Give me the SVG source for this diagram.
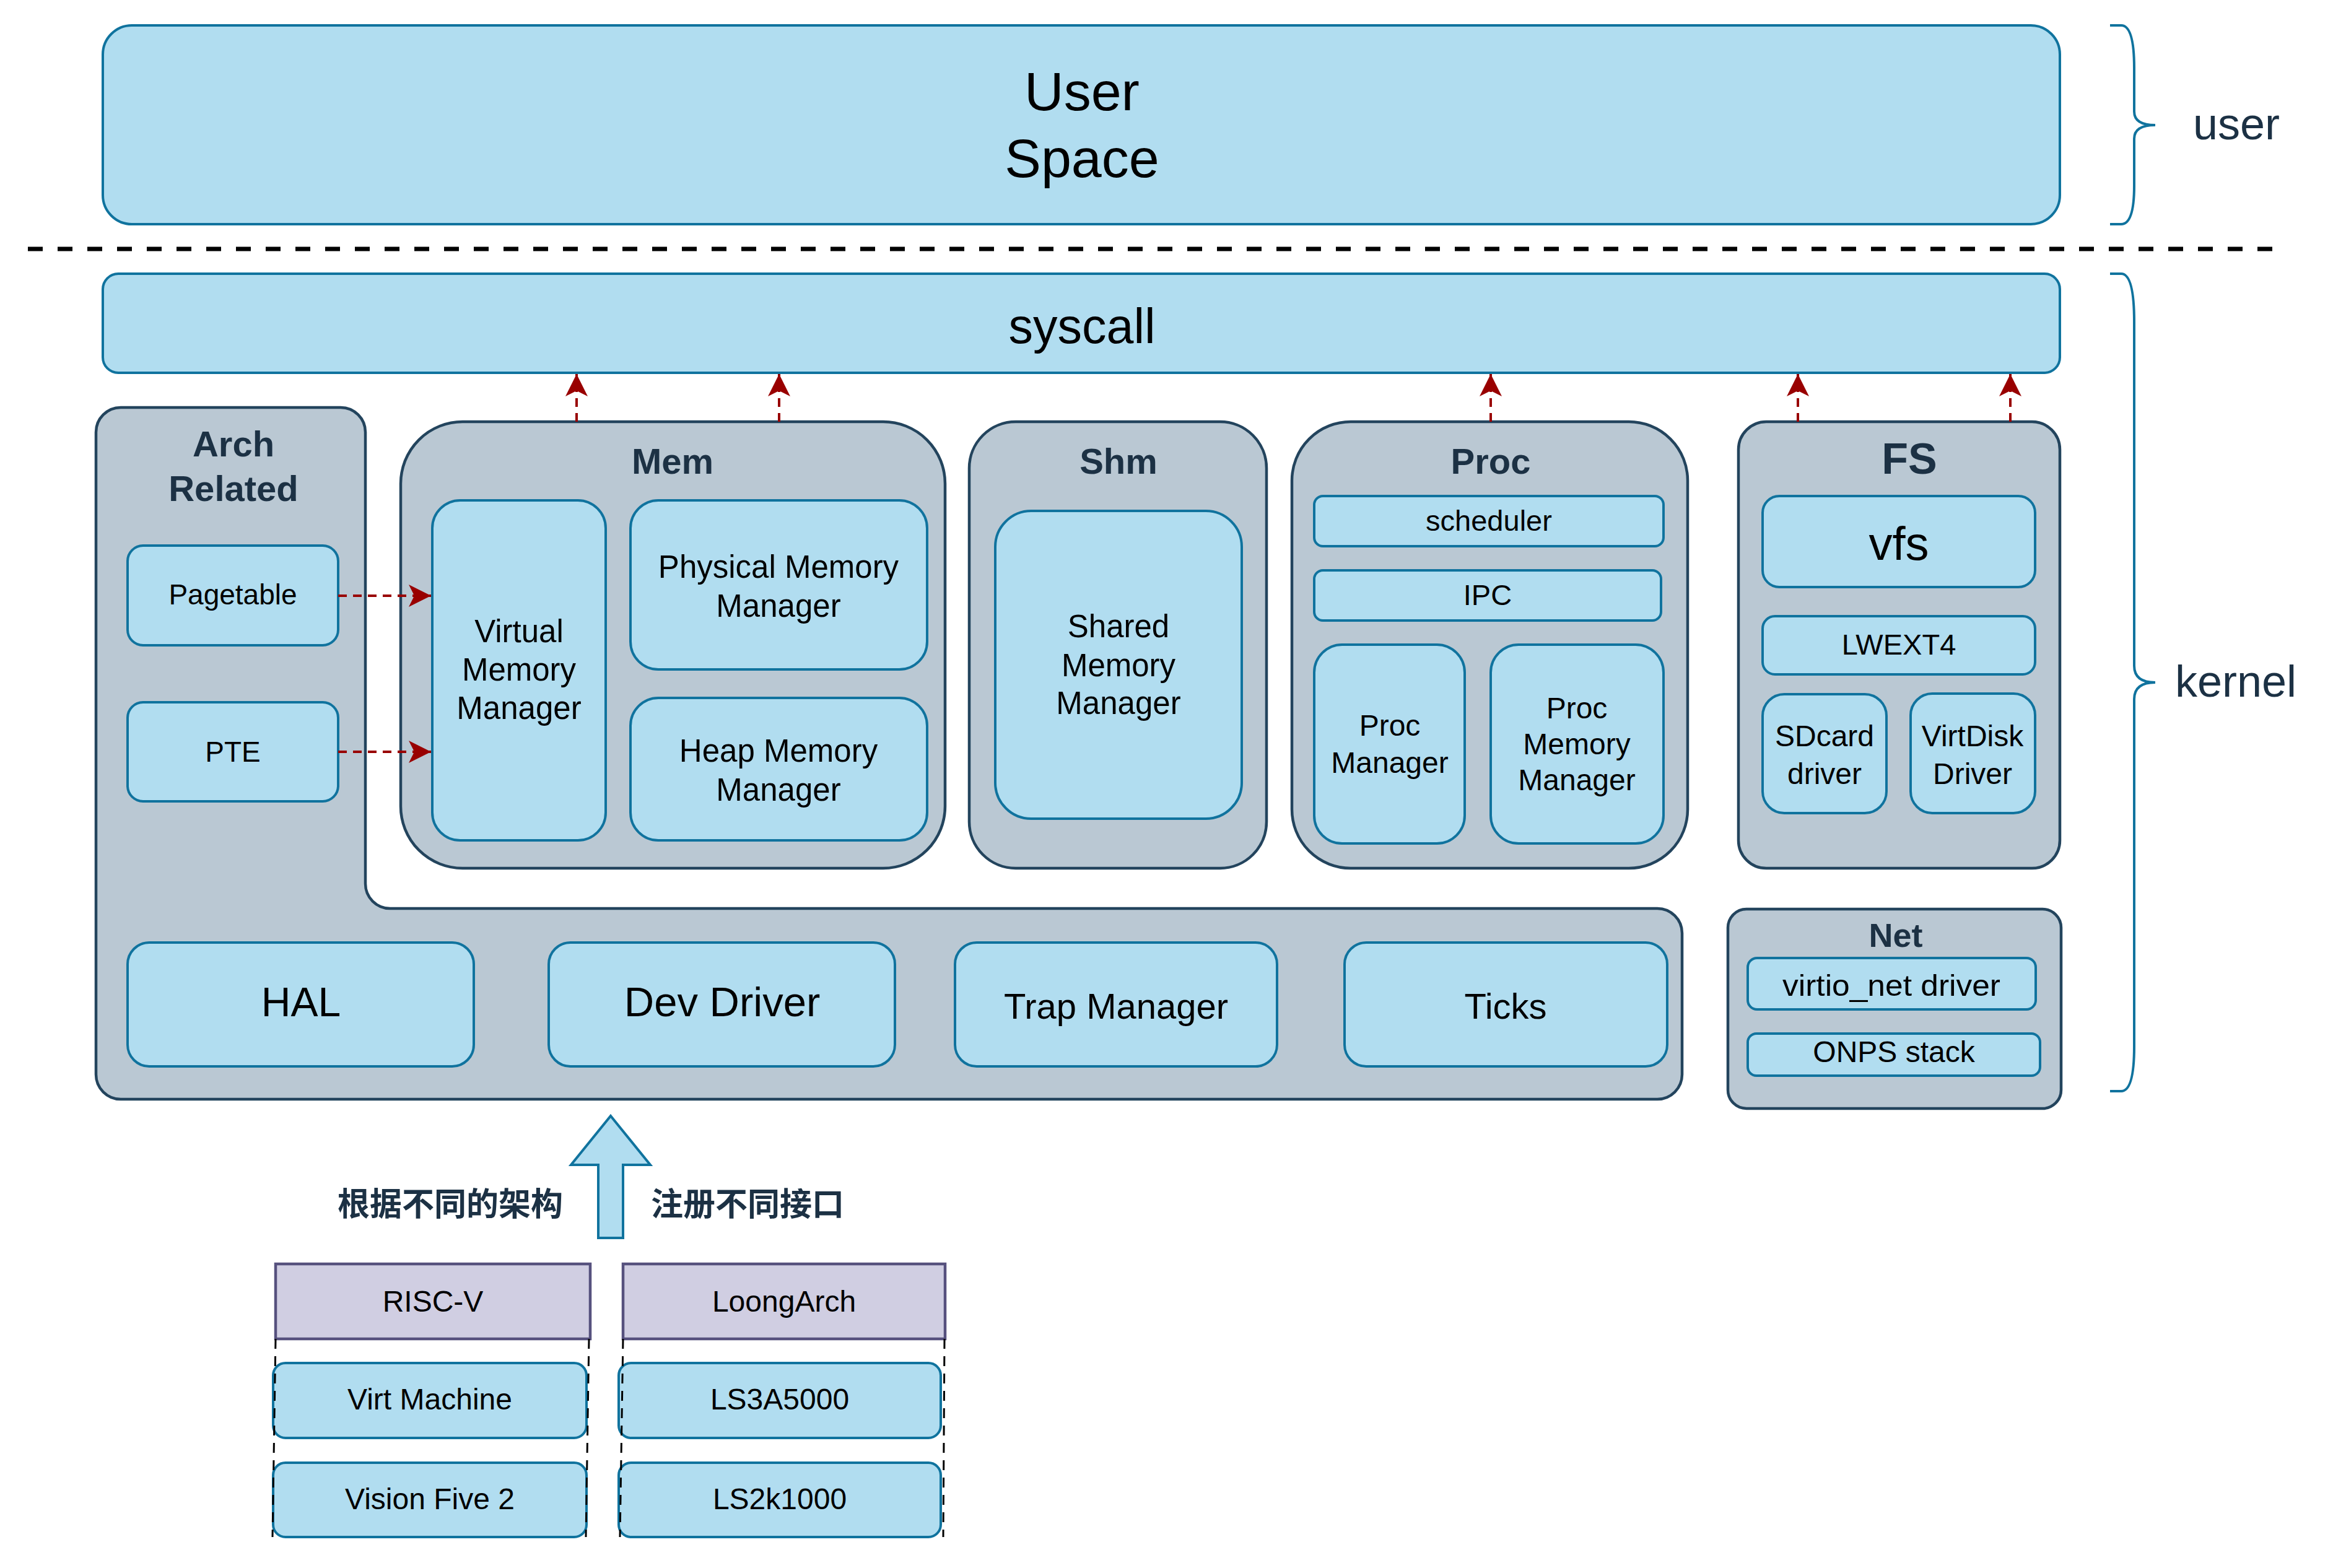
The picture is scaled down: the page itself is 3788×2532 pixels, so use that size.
<svg xmlns="http://www.w3.org/2000/svg" width="3788" height="2532" viewBox="0 0 3788 2532">
<defs>
<style>
.blue{fill:#b1ddf0;stroke:#10739e;stroke-width:4}
.grey{fill:#bac8d3;stroke:#23445d;stroke-width:4.5}
.purple{fill:#d0cee2;stroke:#56517e;stroke-width:4.5}
.t{font-family:"Liberation Sans",Arial,sans-serif;fill:#000;text-anchor:middle}
.h{font-family:"Liberation Sans",Arial,sans-serif;font-weight:bold;fill:#1c3144;text-anchor:middle}
.lab{font-family:"Liberation Sans",Arial,sans-serif;fill:#1c3144;font-size:72px}
.cjk{font-family:"Liberation Sans","Noto Sans CJK SC",sans-serif;font-weight:bold;fill:#1c3144;font-size:52px;text-anchor:middle}
.s48{font-size:48px}
.s51{font-size:51px}
.s58{font-size:58px}
.red{fill:none;stroke:#990000;stroke-width:4;stroke-dasharray:14 10}
.brace{fill:none;stroke:#10739e;stroke-width:4}
.plat{fill:none;stroke:#000;stroke-width:3;stroke-dasharray:16 12}
</style>
<marker id="ah" viewBox="0 0 36 36" refX="36" refY="18" markerWidth="36" markerHeight="36" markerUnits="userSpaceOnUse" orient="auto">
<path d="M36,18 L0,0 L9,18 L0,36 Z" fill="#990000"/>
</marker>
</defs>

<g id="user-space">
<rect class="blue" x="166" y="41" width="3160" height="321" rx="47" ry="47"/>
<text class="t" x="1747" y="178" font-size="88">User</text>
<text class="t" x="1747" y="286" font-size="88">Space</text>
</g>

<g id="separator">
<line x1="45" y1="402" x2="3670" y2="402" stroke="#000" stroke-width="7" stroke-dasharray="24 24"/>
</g>

<g id="brace-user">
<path class="brace" d="M3407,41 H3425 Q3446,41 3446,110 V180 Q3446,202 3480,202 Q3446,202 3446,224 V300 Q3446,362 3425,362 H3407"/>
<text class="lab" x="3541" y="225">user</text>
</g>

<g id="brace-kernel">
<path class="brace" d="M3407,442 H3425 Q3446,442 3446,520 V1075 Q3446,1102 3480,1102 Q3446,1102 3446,1129 V1690 Q3446,1762 3425,1762 H3407"/>
<text class="lab" x="3512" y="1125">kernel</text>
</g>

<g id="syscall">
<rect class="blue" x="166" y="442" width="3160" height="160" rx="25" ry="25"/>
<text class="t" x="1747" y="554" font-size="79">syscall</text>
</g>

<g id="arch-related">
<path class="grey" d="M195,658 H550 A40,40 0 0 1 590,698 V1427 A40,40 0 0 0 630,1467 H2676 A40,40 0 0 1 2716,1507 V1735 A40,40 0 0 1 2676,1775 H195 A40,40 0 0 1 155,1735 V698 A40,40 0 0 1 195,658 Z"/>
<text class="h s58" x="377" y="737">Arch</text>
<text class="h s58" x="377" y="809">Related</text>
</g>

<g id="pagetable">
<rect class="blue" x="206" y="881" width="340" height="161" rx="25" ry="25"/>
<text class="t" x="376" y="976" font-size="46">Pagetable</text>
</g>

<g id="pte">
<rect class="blue" x="206" y="1134" width="340" height="160" rx="25" ry="25"/>
<text class="t" x="376" y="1230" font-size="46">PTE</text>
</g>

<g id="hal">
<rect class="blue" x="206" y="1522" width="559" height="200" rx="35" ry="35"/>
<text class="t" x="486" y="1641" font-size="66">HAL</text>
</g>

<g id="dev-driver">
<rect class="blue" x="886" y="1522" width="559" height="200" rx="35" ry="35"/>
<text class="t" x="1166" y="1641" font-size="67">Dev Driver</text>
</g>

<g id="trap-manager">
<rect class="blue" x="1542" y="1522" width="520" height="200" rx="35" ry="35"/>
<text class="t" x="1802" y="1645" font-size="58">Trap Manager</text>
</g>

<g id="ticks">
<rect class="blue" x="2171" y="1522" width="521" height="200" rx="35" ry="35"/>
<text class="t" x="2431" y="1645" font-size="58">Ticks</text>
</g>

<g id="mem">
<rect class="grey" x="647" y="681" width="879" height="721" rx="100" ry="100"/>
<text class="h s58" x="1086" y="765">Mem</text>
</g>

<g id="virtual-memory-manager">
<rect class="blue" x="698" y="808" width="280" height="549" rx="45" ry="45"/>
<text class="t s51" x="838" y="1037">Virtual</text>
<text class="t s51" x="838" y="1099">Memory</text>
<text class="t s51" x="838" y="1161">Manager</text>
</g>

<g id="physical-memory-manager">
<rect class="blue" x="1018" y="808" width="479" height="273" rx="45" ry="45"/>
<text class="t s51" x="1257" y="933">Physical Memory</text>
<text class="t s51" x="1257" y="996">Manager</text>
</g>

<g id="heap-memory-manager">
<rect class="blue" x="1018" y="1127" width="479" height="230" rx="45" ry="45"/>
<text class="t s51" x="1257" y="1230">Heap Memory</text>
<text class="t s51" x="1257" y="1293">Manager</text>
</g>

<g id="shm">
<rect class="grey" x="1565" y="681" width="480" height="721" rx="75" ry="75"/>
<text class="h s58" x="1806" y="765">Shm</text>
</g>

<g id="shared-memory-manager">
<rect class="blue" x="1607" y="825" width="398" height="497" rx="58" ry="58"/>
<text class="t s51" x="1806" y="1029">Shared</text>
<text class="t s51" x="1806" y="1092">Memory</text>
<text class="t s51" x="1806" y="1153">Manager</text>
</g>

<g id="proc">
<rect class="grey" x="2086" y="681" width="639" height="721" rx="95" ry="95"/>
<text class="h s58" x="2407" y="765">Proc</text>
</g>

<g id="scheduler">
<rect class="blue" x="2122" y="801" width="564" height="81" rx="14" ry="14"/>
<text class="t" x="2404" y="857" font-size="47">scheduler</text>
</g>

<g id="ipc">
<rect class="blue" x="2122" y="921" width="560" height="81" rx="14" ry="14"/>
<text class="t" x="2402" y="977" font-size="47">IPC</text>
</g>

<g id="proc-manager">
<rect class="blue" x="2122" y="1041" width="243" height="321" rx="45" ry="45"/>
<text class="t s48" x="2244" y="1188">Proc</text>
<text class="t s48" x="2244" y="1248">Manager</text>
</g>

<g id="proc-memory-manager">
<rect class="blue" x="2407" y="1041" width="279" height="321" rx="45" ry="45"/>
<text class="t s48" x="2546" y="1160">Proc</text>
<text class="t s48" x="2546" y="1218">Memory</text>
<text class="t s48" x="2546" y="1276">Manager</text>
</g>

<g id="fs">
<rect class="grey" x="2807" y="681" width="519" height="721" rx="45" ry="45"/>
<text class="h" x="3083" y="765" font-size="70">FS</text>
</g>

<g id="vfs">
<rect class="blue" x="2846" y="801" width="440" height="147" rx="27" ry="27"/>
<text class="t" x="3066" y="904" font-size="76">vfs</text>
</g>

<g id="lwext4">
<rect class="blue" x="2846" y="995" width="440" height="94" rx="20" ry="20"/>
<text class="t" x="3066" y="1057" font-size="47">LWEXT4</text>
</g>

<g id="sdcard-driver">
<rect class="blue" x="2846" y="1121" width="200" height="192" rx="35" ry="35"/>
<text class="t s48" x="2946" y="1205">SDcard</text>
<text class="t s48" x="2946" y="1266">driver</text>
</g>

<g id="virtdisk-driver">
<rect class="blue" x="3085" y="1120" width="201" height="193" rx="35" ry="35"/>
<text class="t s48" x="3185" y="1205">VirtDisk</text>
<text class="t s48" x="3185" y="1266">Driver</text>
</g>

<g id="net">
<rect class="grey" x="2790" y="1468" width="538" height="322" rx="30" ry="30"/>
<text class="h" x="3061" y="1529" font-size="54">Net</text>
</g>

<g id="virtio-net-driver">
<rect class="blue" x="2822" y="1547" width="465" height="83" rx="15" ry="15"/>
<text class="t" x="3054" y="1608" font-size="48" textLength="352" lengthAdjust="spacingAndGlyphs">virtio_net driver</text>
</g>

<g id="onps-stack">
<rect class="blue" x="2822" y="1669" width="472" height="68" rx="14" ry="14"/>
<text class="t" x="3058" y="1715" font-size="48">ONPS stack</text>
</g>

<g id="register-arrow">
<path class="blue" d="M986,1802 L1050,1881 L1006,1881 L1006,1999 L966,1999 L966,1881 L922,1881 Z"/>
<text class="cjk" x="727" y="1963">根据不同的架构</text>
<text class="cjk" x="1207" y="1963">注册不同接口</text>
</g>

<g id="risc-v">
<rect class="purple" x="445" y="2041" width="508" height="121"/>
<text class="t s48" x="699" y="2118">RISC-V</text>
</g>

<g id="loongarch">
<rect class="purple" x="1006" y="2041" width="520" height="121"/>
<text class="t s48" x="1266" y="2118">LoongArch</text>
</g>

<g id="virt-machine">
<rect class="blue" x="441" y="2201" width="506" height="121" rx="20" ry="20"/>
<text class="t s48" x="694" y="2276">Virt Machine</text>
</g>

<g id="vision-five-2">
<rect class="blue" x="441" y="2362" width="506" height="120" rx="20" ry="20"/>
<text class="t s48" x="694" y="2437">Vision Five 2</text>
</g>

<g id="ls3a5000">
<rect class="blue" x="999" y="2201" width="520" height="121" rx="20" ry="20"/>
<text class="t s48" x="1259" y="2276">LS3A5000</text>
</g>

<g id="ls2k1000">
<rect class="blue" x="999" y="2362" width="520" height="120" rx="20" ry="20"/>
<text class="t s48" x="1259" y="2437">LS2k1000</text>
</g>

<g id="platform-outlines">
<line class="plat" x1="445" y1="2162" x2="440" y2="2482"/>
<line class="plat" x1="951" y1="2162" x2="946" y2="2482"/>
<line class="plat" x1="1006" y1="2162" x2="1001" y2="2482"/>
<line class="plat" x1="1525" y1="2162" x2="1523" y2="2482"/>
</g>

<g id="connectors">
<line class="red" x1="931" y1="681" x2="931" y2="604" marker-end="url(#ah)"/>
<line class="red" x1="1258" y1="681" x2="1258" y2="604" marker-end="url(#ah)"/>
<line class="red" x1="2407" y1="681" x2="2407" y2="604" marker-end="url(#ah)"/>
<line class="red" x1="2903" y1="681" x2="2903" y2="604" marker-end="url(#ah)"/>
<line class="red" x1="3246" y1="681" x2="3246" y2="604" marker-end="url(#ah)"/>
<line class="red" x1="546" y1="962" x2="696" y2="962" marker-end="url(#ah)"/>
<line class="red" x1="546" y1="1214" x2="696" y2="1214" marker-end="url(#ah)"/>
</g>
</svg>
